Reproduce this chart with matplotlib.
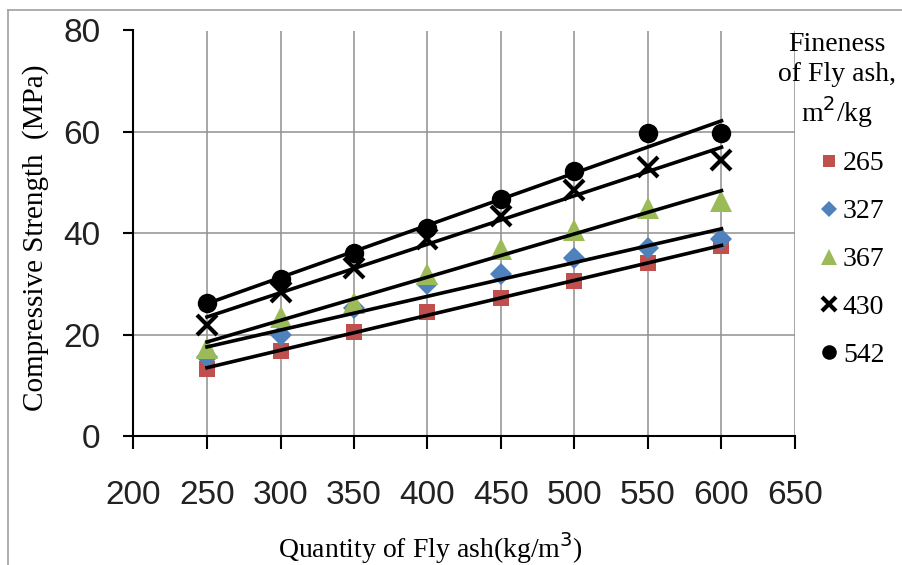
import matplotlib
matplotlib.use("Agg")
import matplotlib.pyplot as plt
import matplotlib.lines as mlines
import numpy as np

# Quantity of fly ash (kg/m3)
quantity = [250, 300, 350, 400, 450, 500, 550, 600]

# Compressive strength (MPa) per fly ash fineness (m2/kg)
strength_265 = [13.2, 16.7, 20.5, 24.5, 27.3, 30.6, 34.1, 37.4]
strength_327 = [15.6, 19.9, 25.3, 30.0, 32.0, 35.2, 37.0, 38.8]
strength_367 = [17.3, 23.5, 26.3, 32.0, 36.8, 40.6, 45.0, 46.3]
strength_430 = [21.9, 28.4, 33.2, 38.8, 43.5, 48.5, 53.0, 54.5]
strength_542 = [26.3, 31.0, 36.2, 41.0, 46.8, 52.3, 59.8, 59.8]

labels = ["265", "327", "367", "430", "542"]
x_ticks = [200, 250, 300, 350, 400, 450, 500, 550, 600, 650]
y_ticks = [0, 20, 40, 60, 80]

series = [strength_265, strength_327, strength_367, strength_430, strength_542]
styles = [
    dict(marker="s", color="#C0504D", ms=11, mew=0),
    dict(marker="D", color="#4F81BD", ms=11, mew=0),
    dict(marker="^", color="#9BBB59", ms=16, mew=0),
    dict(marker="x", color="black", ms=14, mew=3),
    dict(marker="o", color="black", ms=14, mew=0),
]

fig = plt.figure(figsize=(9.03, 5.65), dpi=100)
ax = fig.add_axes([133.5 / 903, 1 - 436 / 565, (795 - 133.5) / 903, (436 - 30.5) / 565])

x = np.array(quantity)
for vals, st in zip(series, styles):
    ax.plot(x, vals, linestyle="none", zorder=3, **st)
# linear trendlines
for vals in series:
    slope, intercept = np.polyfit(x, vals, 1)
    ax.plot(x[[0, -1]], slope * x[[0, -1]] + intercept, color="black", lw=2.6, zorder=4)

ax.set_xlim(200, 650)
ax.set_ylim(0, 80)
ax.set_xticks(x_ticks)
ax.set_yticks(y_ticks)
ax.grid(True, color="#909090", lw=1.1)
ax.set_axisbelow(True)
for s in ["top", "right"]:
    ax.spines[s].set_visible(False)
for s in ["left", "bottom"]:
    ax.spines[s].set_linewidth(1.5)
ax.tick_params(axis="x", direction="out", length=9.5, width=1.5, pad=22,
               labelsize=24, labelcolor="#222222")
ax.tick_params(axis="y", direction="out", length=7, width=1.5, pad=17,
               labelsize=24, labelcolor="#222222")
for lab in ax.get_xticklabels() + ax.get_yticklabels():
    lab.set_family("Liberation Sans")

serif = "Liberation Serif"
fig.text(430 / 903, 1 - 548 / 565, "Quantity of Fly ash(kg/m$^3$)", family=serif,
         fontsize=20, ha="center", va="center")
fig.text(36 / 903, 1 - 238 / 565, "Compressive Strength  (MPa)", family=serif,
         fontsize=21, rotation=90, ha="center", va="center")

# legend
fig.text(837 / 903, 1 - 81 / 565, "Fineness\nof Fly ash,\nm$^2$/kg", family=serif,
         fontsize=20, ha="center", va="center", linespacing=1.25)
handles = [mlines.Line2D([], [], linestyle="none", **dict(st, ms=st["ms"] * 0.75))
           for st in styles]
leg = fig.legend(handles, labels, loc="upper left", bbox_to_anchor=(804 / 903, 1 - 137 / 565),
                 frameon=False, prop={"family": serif, "size": 20}, handlelength=0.8,
                 handletextpad=0.1, labelspacing=0.81, borderpad=0)

# outer chart border
fig.add_artist(mlines.Line2D([8 / 903, 8 / 903], [0, 1 - 10 / 565], color="#a0a0a0", lw=1.2,
                             transform=fig.transFigure))
fig.add_artist(mlines.Line2D([8 / 903, 1], [1 - 10 / 565, 1 - 10 / 565], color="#a0a0a0", lw=1.2,
                             transform=fig.transFigure))

fig.savefig("out.png", dpi=100)
